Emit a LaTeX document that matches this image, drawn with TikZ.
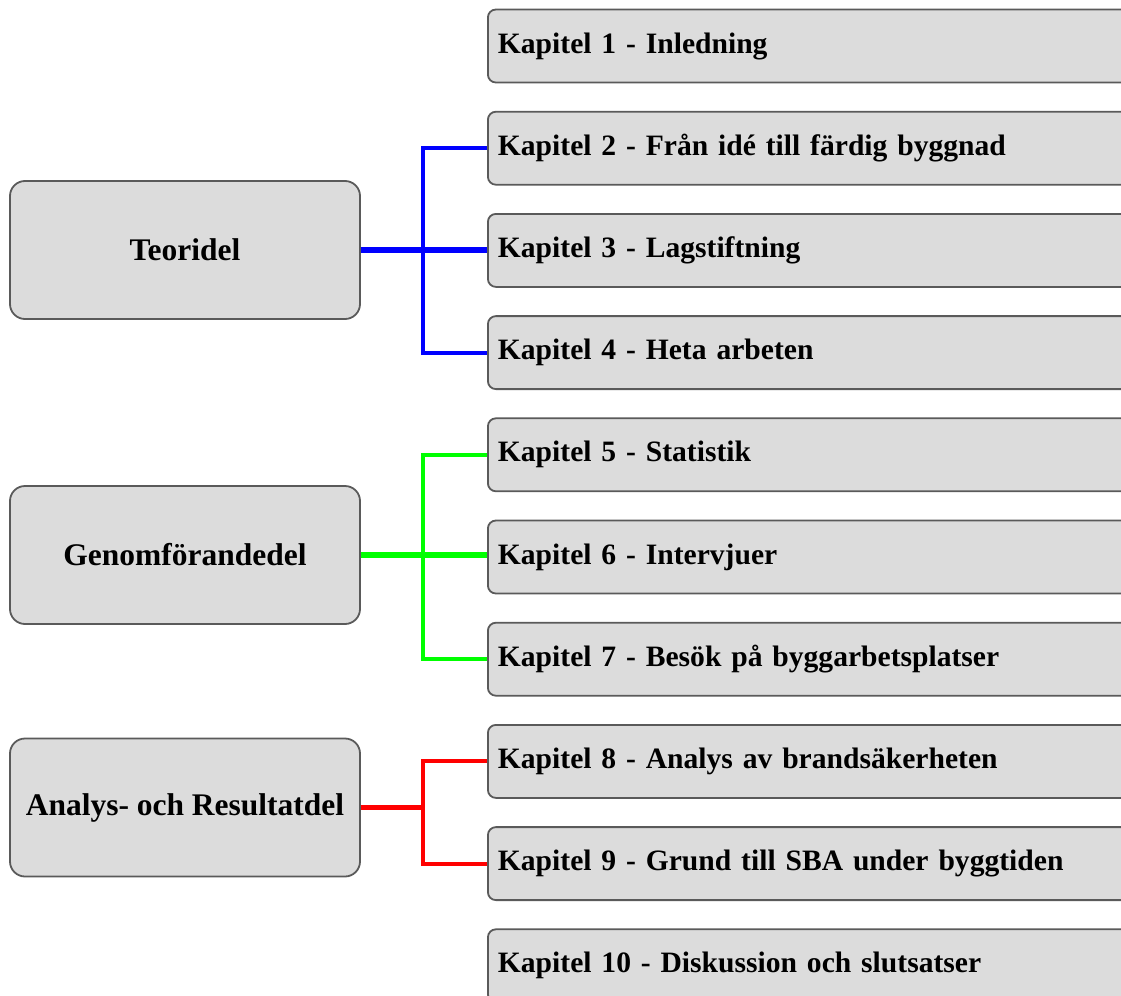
\documentclass[tikz,border=0pt]{standalone}
\usepackage{fontspec}
\setmainfont{Liberation Serif}
\usetikzlibrary{positioning}

\definecolor{boxgray}{RGB}{220,220,220}
\definecolor{boxline}{RGB}{90,90,90}

\tikzset{
  kapitel/.style={draw=boxline, line width=1.8bp, fill=boxgray, rounded corners=8bp,
    anchor=west, minimum height=73bp, minimum width=660bp, text width=640bp,
    inner xsep=10bp, align=left, font=\bfseries\fontsize{29.7}{36}\selectfont},
  del/.style={draw=boxline, line width=1.8bp, fill=boxgray, rounded corners=15bp,
    minimum height=138bp, minimum width=350bp, align=center,
    font=\bfseries\fontsize{31.6}{36}\selectfont},
  stam/.style={line width=5.5bp},
  gren/.style={line width=4bp, line join=miter},
}

\begin{document}
\begin{tikzpicture}[x=1bp, y=-1bp]

% page is the size of the reference
\clip (0,0) rectangle (1121,996);
\fill[white] (0,0) rectangle (1121,996);

% Chapters on the right
\node[kapitel] (kap1)  at (487, 46.0) {Kapitel 1 - Inledning};
\node[kapitel] (kap2)  at (487,148.2) {Kapitel 2 - Från idé till färdig byggnad};
\node[kapitel] (kap3)  at (487,250.4) {Kapitel 3 - Lagstiftning};
\node[kapitel] (kap4)  at (487,352.6) {Kapitel 4 - Heta arbeten};
\node[kapitel] (kap5)  at (487,454.8) {Kapitel 5 - Statistik};
\node[kapitel] (kap6)  at (487,557.0) {Kapitel 6 - Intervjuer};
\node[kapitel] (kap7)  at (487,659.2) {Kapitel 7 - Besök på byggarbetsplatser};
\node[kapitel] (kap8)  at (487,761.4) {Kapitel 8 - Analys av brandsäkerheten};
\node[kapitel] (kap9)  at (487,863.6) {Kapitel 9 - Grund till SBA under byggtiden};
\node[kapitel] (kap10) at (487,965.8) {Kapitel 10 - Diskussion och slutsatser};

% Parts on the left
\node[del] (teori)  at (185,250)   {Teoridel};
\node[del] (genom)  at (185,555)   {Genomförandedel};
\node[del] (analys) at (185,807.5) {Analys- och Resultatdel};

\coordinate (teorisplit)  at (423,250);
\coordinate (genomsplit)  at (423,555);
\coordinate (analyssplit) at (423,807.5);

% Teoridel -> kapitel 2-4
\draw[gren, blue] (kap2.west) -| (teorisplit) |- (kap4.west);
\draw[stam, blue] (teori.east) -- (teori.east -| kap3.west);

% Genomforandedel -> kapitel 5-7
\draw[gren, green] (kap5.west) -| (genomsplit) |- (kap7.west);
\draw[stam, green] (genom.east) -- (genom.east -| kap6.west);

% Analysdel -> kapitel 8-9
\draw[gren, red] (kap8.west) -| (analyssplit) |- (kap9.west);
\draw[stam, red] (analys.east) -- (analyssplit);

\end{tikzpicture}
\end{document}
